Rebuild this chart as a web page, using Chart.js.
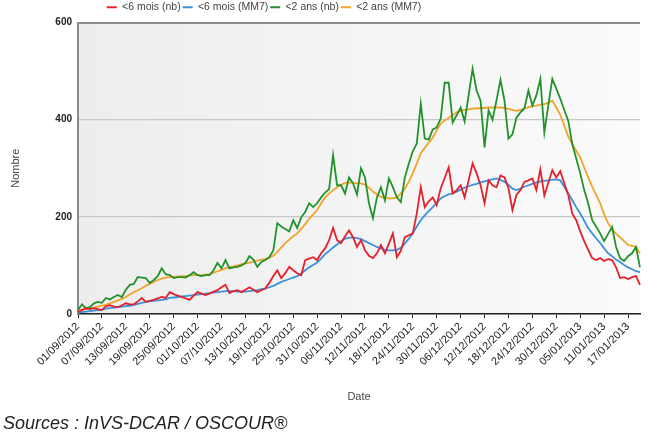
<!DOCTYPE html>
<html>
<head>
<meta charset="utf-8">
<script src="https://cdn.jsdelivr.net/npm/chart.js@4"></script>
<style>
  body { margin: 0; background: #ffffff; }
  #wrap { position: relative; width: 649px; height: 434px; }
  #sources {
    position: absolute; left: 3px; top: 413px;
    font: italic 18px "Liberation Sans", Arial, sans-serif; color: #222;
  }
</style>
</head>
<body>
<div id="wrap">
  <canvas id="myChart" width="649" height="434"></canvas>
  <div id="sources">Sources : InVS-DCAR / OSCOUR®</div>
</div>
<script>
// daily dates, 01/09/2012 -> 20/01/2013
const labels = [];
const start = new Date(2012, 8, 1);
for (let i = 0; i < 142; i++) {
    const d = new Date(start.getFullYear(), start.getMonth(), start.getDate() + i);
    const dd = String(d.getDate()).padStart(2, '0');
    const mm = String(d.getMonth() + 1).padStart(2, '0');
    labels.push(dd + '/' + mm + '/' + d.getFullYear());
}

const yTicks = [0, 200, 400, 600];

const moins6Nb = [
    4, 8, 12, 10, 12, 10, 8, 16, 18, 15, 14, 18, 22, 20, 20, 26, 33, 25, 27, 29,
    32, 35, 33, 45, 41, 38, 35, 32, 29, 38, 45, 42, 39, 42, 46, 49, 55, 60, 43, 47,
    49, 45, 50, 55, 50, 45, 49, 53, 64, 78, 90, 74, 84, 97, 90, 84, 80, 111, 114, 117,
    111, 125, 135, 152, 177, 152, 146, 160, 172, 158, 138, 152, 131, 120, 115, 125, 142, 125, 145, 166,
    117, 130, 158, 162, 166, 207, 261, 220, 232, 240, 224, 259, 280, 302, 248, 255, 265, 240, 275, 310,
    290, 265, 228, 275, 265, 261, 285, 281, 259, 214, 245, 255, 272, 275, 279, 255, 298, 244, 270, 296,
    281, 294, 269, 245, 207, 193, 170, 150, 132, 115, 111, 115, 109, 113, 111, 96, 74, 76, 72, 76,
    78, 60
];

const moins6MM7 = [
    3, 4, 5, 6, 7, 8, 9, 11, 12, 13, 14, 15, 16, 17, 19, 21, 23, 25, 26, 27,
    28, 29, 30, 33, 34, 35, 36, 37, 38, 39, 40, 41, 42, 43, 44, 45, 46, 47, 47, 47,
    46, 46, 46, 47, 48, 49, 51, 52, 55, 58, 62, 66, 69, 72, 75, 78, 83, 90, 96, 101,
    106, 114, 123, 130, 137, 143, 150, 155, 157, 157, 156, 154, 150, 146, 142, 138, 135, 132, 131, 131,
    132, 136, 145, 155, 166, 180, 193, 203, 212, 220, 229, 238, 243, 246, 248, 252, 256, 260, 263, 266,
    268, 271, 273, 275, 277, 279, 276, 272, 266, 258, 255, 258, 262, 265, 268, 271, 273, 274, 275, 276,
    277, 275, 262, 248, 234, 220, 207, 192, 177, 166, 156, 146, 135, 125, 119, 112, 107, 101, 96, 92,
    88, 86
];

const moins2Nb = [
    8, 20, 12, 14, 22, 25, 23, 33, 30, 35, 39, 35, 50, 60, 62, 76, 75, 74, 64, 70,
    78, 94, 82, 80, 74, 76, 76, 75, 80, 86, 80, 78, 80, 80, 90, 105, 94, 111, 94, 96,
    97, 100, 105, 119, 112, 97, 107, 111, 117, 131, 187, 180, 175, 170, 193, 177, 199, 210, 228, 220,
    228, 240, 250, 257, 327, 265, 265, 248, 281, 269, 246, 300, 281, 228, 197, 240, 261, 234, 279, 261,
    240, 230, 281, 310, 335, 351, 433, 361, 359, 380, 384, 402, 476, 476, 394, 409, 425, 396, 450, 505,
    460, 439, 343, 419, 400, 440, 482, 439, 361, 370, 404, 415, 423, 460, 429, 450, 484, 374, 430, 484,
    464, 443, 420, 398, 350, 320, 290, 255, 228, 193, 180, 166, 150, 165, 179, 138, 115, 109, 119, 125,
    138, 96
];

const moins2MM7 = [
    8, 9, 10, 12, 13, 15, 17, 19, 22, 25, 28, 31, 35, 40, 45, 49, 53, 58, 62, 66,
    70, 73, 75, 76, 77, 77, 78, 78, 79, 80, 80, 80, 81, 82, 85, 88, 91, 94, 97, 98,
    100, 102, 104, 106, 108, 110, 112, 113, 116, 120, 128, 137, 146, 153, 160, 166, 175, 185, 196, 205,
    214, 228, 240, 248, 255, 261, 266, 270, 271, 270, 269, 269, 266, 260, 252, 246, 241, 239, 238, 238,
    240, 248, 258, 272, 290, 310, 331, 342, 353, 363, 378, 392, 398, 404, 409, 415, 418, 420, 421, 423,
    423, 424, 424, 425, 425, 425, 425, 424, 422, 420, 418, 420, 423, 426, 428, 429, 431, 432, 435, 439,
    425, 410, 388, 365, 350, 336, 322, 302, 281, 262, 245, 228, 205, 187, 175, 165, 158, 150, 142, 140,
    138, 125
];

const plotBg = {
    id: 'plotBg',
    beforeDraw(chart) {
        const { ctx, chartArea: a } = chart;
        const g = ctx.createLinearGradient(a.left, 0, a.right, 0);
        g.addColorStop(0, '#ededed');
        g.addColorStop(1, '#fbfbfb');
        ctx.save();
        ctx.fillStyle = g;
        ctx.fillRect(a.left, a.top, a.right - a.left, a.bottom - a.top);
        ctx.restore();
    },
    afterLayout(chart) {
        // legend sits left of centre in the original
        chart.legend.left -= 56;
        chart.legend.right -= 56;
    }
};

function line(label, data, color) {
    return {
        label: label,
        data: data,
        borderColor: color,
        backgroundColor: color,
        borderWidth: 1.8,
        pointRadius: 0,
        pointStyle: 'line',
        tension: 0
    };
}

const config = {
    type: 'line',
    data: {
        labels: labels,
        datasets: [
            line('<6 mois (nb)', moins6Nb, '#e3202b'),
            line('<6 mois (MM7)', moins6MM7, '#3b92dc'),
            line('<2 ans (nb)', moins2Nb, '#23922c'),
            line('<2 ans (MM7)', moins2MM7, '#f0a42a')
        ]
    },
    options: {
        responsive: false,
        animation: false,
        layout: { padding: { top: 0, right: 9, bottom: 30, left: 0 } },
        plugins: {
            tooltip: { enabled: false },
            legend: {
                position: 'top',
                labels: {
                    usePointStyle: true,
                    pointStyleWidth: 10,
                    boxHeight: 6,
                    padding: 2,
                    color: '#444',
                    font: { family: 'Liberation Sans, Arial', size: 10.5 }
                }
            }
        },
        scales: {
            x: {
                ticks: {
                    autoSkip: false,
                    minRotation: 45,
                    maxRotation: 45,
                    padding: 2,
                    color: '#222',
                    font: { family: 'Liberation Sans, Arial', size: 11 },
                    callback: function (v, i) {
                        return i % 6 === 0 ? labels[i] : null;
                    }
                },
                grid: { drawOnChartArea: false, tickLength: 4, color: '#222' },
                border: { color: '#222', width: 1.5 },
                title: {
                    display: true, text: 'Date', color: '#444',
                    font: { family: 'Liberation Sans, Arial', size: 11 },
                    padding: { top: 4, bottom: 0 }
                },
                afterFit: function (s) { s.height = 90; }
            },
            y: {
                min: 0,
                max: 600,
                afterBuildTicks: function (s) {
                    s.ticks = yTicks.map(v => ({ value: v }));
                },
                ticks: {
                    padding: 6,
                    color: '#222',
                    font: { family: 'Liberation Sans, Arial', size: 10, weight: 'bold' }
                },
                grid: {
                    drawTicks: false,
                    color: c => c.tick.value === 600 ? '#8a8a8a' : '#c8c8c8',
                    lineWidth: c => c.tick.value === 600 ? 2 : 1.2
                },
                border: { color: '#8a8a8a', width: 2 },
                title: {
                    display: true, text: 'Nombre', color: '#444',
                    font: { family: 'Liberation Sans, Arial', size: 11 },
                    padding: { top: 9, bottom: 0 }
                },
                afterFit: function (s) { s.width = 78; }
            }
        }
    },
    plugins: [plotBg]
};

const myChart = new Chart(
    document.getElementById('myChart'),
    config
);
</script>
</body>
</html>
